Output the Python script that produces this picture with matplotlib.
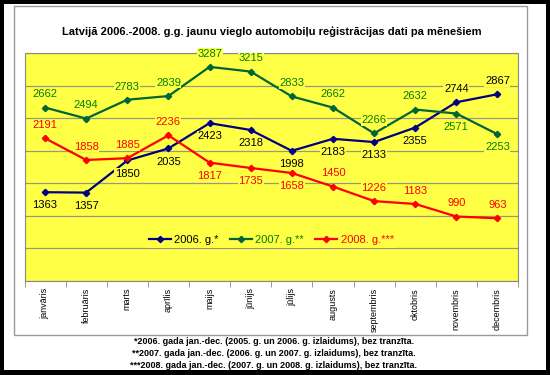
import matplotlib
matplotlib.use("Agg")
import matplotlib.pyplot as plt
from matplotlib.patches import Rectangle

plt.rcParams['font.family'] = ['Liberation Sans Narrow', 'Liberation Sans', 'DejaVu Sans']

# dati
months = ['janvāris', 'februāris', 'marts', 'aprīlis', 'maijs', 'jūnijs',
          'jūlijs', 'augusts', 'septembris', 'oktobris', 'novembris', 'decembris']
y2006 = [1363, 1357, 1850, 2035, 2423, 2318, 1998, 2183, 2133, 2355, 2744, 2867]
y2007 = [2662, 2494, 2783, 2839, 3287, 3215, 2833, 2662, 2266, 2632, 2571, 2253]
y2008 = [2191, 1858, 1885, 2236, 1817, 1735, 1658, 1450, 1226, 1183, 990, 963]

# etiķešu novietojums: 1 = virs punkta, -1 = zem punkta
pos2006 = [-1, -1, -1, -1, -1, -1, -1, -1, -1, -1, 1, 1]
pos2007 = [1, 1, 1, 1, 1, 1, 1, 1, 1, 1, -1, -1]
pos2008 = [1, 1, 1, 1, -1, -1, -1, 1, 1, 1, 1, 1]

series = [
    ('2006. g.*', y2006, pos2006, '#000080', 'black'),
    ('2007. g.**', y2007, pos2007, '#006633', '#008000'),
    ('2008. g.***', y2008, pos2008, '#ff0000', '#ff0000'),
]

footnotes = [
    '*2006. gada jan.-dec. (2005. g. un 2006. g. izlaidums), bez tranzīta.',
    '**2007. gada jan.-dec. (2006. g. un 2007. g. izlaidums), bez tranzīta.',
    '***2008. gada jan.-dec. (2007. g. un 2008. g. izlaidums), bez tranzīta.',
]

W, H = 550, 375
yellow = '#ffff45'

fig = plt.figure(figsize=(W / 100, H / 100), dpi=100, facecolor='black')

def px_rect(x0, y0, x1, y1, **kw):
    r = Rectangle((x0 / W, 1 - y1 / H), (x1 - x0) / W, (y1 - y0) / H,
                  transform=fig.transFigure, zorder=-5, **kw)
    fig.patches.append(r)

px_rect(4, 4, 546, 370, facecolor='white', edgecolor='none')
px_rect(14, 5.5, 527, 335, facecolor='white', edgecolor='#999999', linewidth=1)

ax = fig.add_axes([24.5 / W, 1 - 281 / H, (518 - 24.5) / W, (281 - 53) / H])
ax.set_facecolor(yellow)
for s in ax.spines.values():
    s.set_color('#888888')
    s.set_linewidth(0.8)

x = list(range(len(months)))
for label, vals, pos, lc, tc in series:
    ax.plot(x, vals, color=lc, linewidth=1.6, marker='D', markersize=3.2,
            label=label, zorder=3)
    for xi, v, p in zip(x, vals, pos):
        ax.annotate(str(v), (xi, v), xytext=(0, 9.5 * p), textcoords='offset points',
                    ha='center', va='center', fontsize=8, color=tc, zorder=4,
                    bbox=dict(boxstyle='square,pad=0.05', facecolor=yellow, edgecolor='none'))

ax.set_xlim(-0.5, 11.5)
ax.set_ylim(0, 3500)
ax.set_yticks(range(0, 3501, 500))
ax.yaxis.grid(True, color='#999980', linewidth=0.9, zorder=0)
ax.set_axisbelow(True)
ax.tick_params(axis='y', left=False, labelleft=False)

ax.set_xticks(x)
ax.set_xticklabels(months, rotation=90, fontsize=6.5)
ax.tick_params(axis='x', which='major', length=0, pad=5)
ax.set_xticks([i + 0.5 for i in range(-1, 12)], minor=True)
ax.tick_params(axis='x', which='minor', length=4, color='#888888', direction='out')

leg = ax.legend(loc='center', bbox_to_anchor=(0.50, 0.18), ncol=3, frameon=True,
                fontsize=8, handlelength=2.0, handletextpad=0.3, columnspacing=1.0,
                borderpad=0.3)
leg.get_frame().set_facecolor(yellow)
leg.get_frame().set_edgecolor('none')
leg.get_frame().set_alpha(1)
for t, (_, _, _, _, tc) in zip(leg.get_texts(), series):
    t.set_color(tc)

fig.text(272 / W, 1 - 31 / H,
         'Latvijā 2006.-2008. g.g. jaunu vieglo automobiļu reģistrācijas dati pa mēnešiem',
         ha='center', va='center', fontsize=8, fontweight='bold')

for i, line in enumerate(footnotes):
    fig.text(274 / W, 1 - (342 + 12 * i) / H, line, ha='center', va='center',
             fontsize=6.5, fontweight='bold')

fig.savefig('out.png', dpi=100, facecolor=fig.get_facecolor())
